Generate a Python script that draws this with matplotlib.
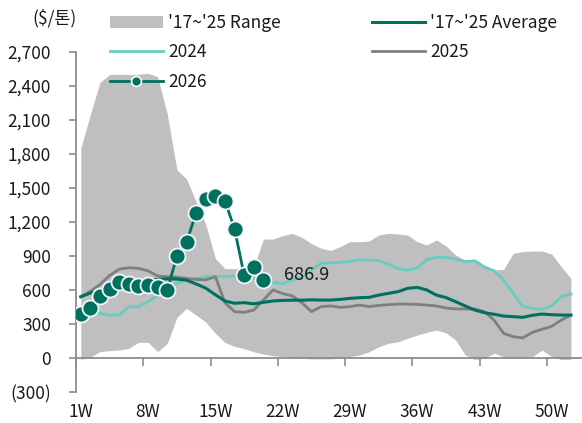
import numpy as np
import matplotlib
matplotlib.use("Agg")
import matplotlib.pyplot as plt
from matplotlib.ticker import FixedLocator, FuncFormatter

plt.rcParams['font.family'] = ['Noto Sans CJK KR', 'DejaVu Sans']

# ---- data -------------------------------------------------------------
weeks = np.arange(1, 53)

range_upper = [1850, 2150, 2430, 2500, 2500, 2500, 2500, 2510, 2480, 2150,
               1660, 1580, 1380, 1180, 880, 790, 790, 790, 800, 1050,
               1050, 1080, 1100, 1065, 1010, 970, 950, 985, 1027, 1027,
               1033, 1086, 1100, 1095, 1086, 1027, 998, 1042, 990, 910,
               866, 866, 807, 778, 784, 925, 940, 945, 945, 918,
               807, 704]

range_lower = [-10, 10, 59, 68, 73, 88, 141, 141, 59, 132,
               360, 440, 381, 320, 220, 140, 105, 85, 58, 38,
               23, 15, 9, 0, -5, -5, -5, 0, 15, 29,
               58, 102, 132, 146, 176, 205, 229, 249, 225, 161,
               29, -10, 0, 44, 15, 0, 0, 15, 73, 15,
               -10, -10]

avg_17_25 = [542, 575, 600, 625, 650, 670, 685, 690, 695, 700,
             698, 688, 655, 618, 560, 505, 485, 490, 480, 493,
             505, 510, 512, 512, 515, 513, 513, 519, 528, 534,
             537, 557, 572, 587, 616, 625, 602, 557, 535, 499,
             461, 425, 402, 388, 372, 367, 361, 379, 390, 384,
             381, 381]

y2024 = [400, 400, 395, 381, 381, 455, 455, 499, 557, 616,
         660, 690, 705, 718, 722, 722, 722, 720, 705, 690,
         668, 655, 690, 720, 780, 836, 840, 845, 855, 866,
         866, 860, 830, 790, 775, 795, 870, 888, 889, 872,
         851, 859, 805, 771, 690, 572, 455, 440, 431, 461,
         543, 566]

y2025 = [543, 590, 650, 730, 785, 798, 792, 770, 725, 718,
         715, 704, 695, 690, 719, 490, 411, 405, 425, 513,
         602, 570, 550, 490, 411, 455, 461, 449, 455, 469,
         455, 466, 472, 478, 478, 475, 469, 461, 443, 435,
         435, 434, 411, 337, 220, 190, 180, 229, 256, 282,
         337, 381]

y2026 = [390, 446, 551, 607, 669, 651, 640, 645, 628, 601,
         900, 1021, 1282, 1403, 1429, 1388, 1138, 731, 804, 686.9]
weeks_2026 = weeks[:len(y2026)]

yticks = list(range(-300, 2701, 300))
xtick_weeks = [1, 8, 15, 22, 29, 36, 43, 50]
xtick_labels = [f"{w}W" for w in xtick_weeks]

# ---- styling ----------------------------------------------------------
c_band = '#BFBFBF'
c_avg = '#00705F'
c_2024 = '#66CDBE'
c_2025 = '#7F7F7F'
c_2026 = '#00705F'
c_axis = '#8C8C8C'
fs = 12.5

fig = plt.figure(figsize=(5.82, 4.23), dpi=100)
ax = fig.add_axes([76 / 582, (423 - 392.4) / 423, 506 / 582, (392.4 - 51.7) / 423])

band = ax.fill_between(weeks, range_lower, range_upper, color=c_band,
                       linewidth=0, zorder=1, label="'17~'25 Range")
l24, = ax.plot(weeks, y2024, color=c_2024, lw=2.0, zorder=3, label='2024')
l25, = ax.plot(weeks, y2025, color=c_2025, lw=2.0, zorder=3, label='2025')
lavg, = ax.plot(weeks, avg_17_25, color=c_avg, lw=2.2, zorder=4,
                label="'17~'25 Average")
l26, = ax.plot(weeks_2026, y2026, color=c_2026, lw=2.0, zorder=5,
               marker='o', markersize=11.5, markerfacecolor=c_2026,
               markeredgecolor='#F7F3FA', markeredgewidth=1.3, label='2026')

ax.annotate(f"{y2026[-1]:,.1f}", xy=(weeks_2026[-1], y2026[-1]),
            xytext=(15, 4), textcoords='offset points',
            ha='left', va='center', fontsize=13, color='#1a1a1a', zorder=6)

# ---- axes -------------------------------------------------------------
ax.set_xlim(0.5, 0.5 + 506 / 9.61)
ax.set_ylim(-300, 2700)

for side in ('top', 'right'):
    ax.spines[side].set_visible(False)
ax.spines['left'].set_color(c_axis)
ax.spines['left'].set_linewidth(1.3)
ax.spines['bottom'].set_position(('data', 0))
ax.spines['bottom'].set_color(c_axis)
ax.spines['bottom'].set_linewidth(1.3)
ax.spines['bottom'].set_zorder(2.5)

ax.yaxis.set_major_locator(FixedLocator(yticks))
ax.yaxis.set_major_formatter(FuncFormatter(
    lambda v, p: f"({abs(int(v)):,})" if v < 0 else f"{int(v):,}"))
ax.tick_params(axis='y', direction='out', length=5, width=1.2, color=c_axis,
               labelsize=fs, pad=13, labelcolor='#1a1a1a')

ax.set_xticks(xtick_weeks)
ax.set_xticklabels(xtick_labels)
ax.set_xticks([w - 0.5 for w in xtick_weeks], minor=True)
ax.tick_params(axis='x', which='major', length=0, labelsize=fs, pad=32,
               labelcolor='#1a1a1a')
ax.tick_params(axis='x', which='minor', direction='out', length=6, width=1.2,
               color=c_axis)

fig.text(54 / 582, 1 - 18 / 423, '($/톤)', ha='center', va='center',
         fontsize=fs, color='#1a1a1a')

# ---- legends ----------------------------------------------------------
common = dict(frameon=False, fontsize=fs, handlelength=3.05,
              handletextpad=0.3, borderpad=0, borderaxespad=0,
              labelspacing=0.66, markerscale=0.62)
leg1 = fig.legend([band, l24, l26], ["'17~'25 Range", '2024', '2026'],
                  loc='upper left', bbox_to_anchor=(110 / 582, 1 - 14 / 423),
                  **common)
leg2 = fig.legend([lavg, l25], ["'17~'25 Average", '2025'],
                  loc='upper left', bbox_to_anchor=(372 / 582, 1 - 14 / 423),
                  **common)
for leg in (leg1, leg2):
    for t in leg.get_texts():
        t.set_color('#1a1a1a')

fig.savefig('out.png', dpi=100)
